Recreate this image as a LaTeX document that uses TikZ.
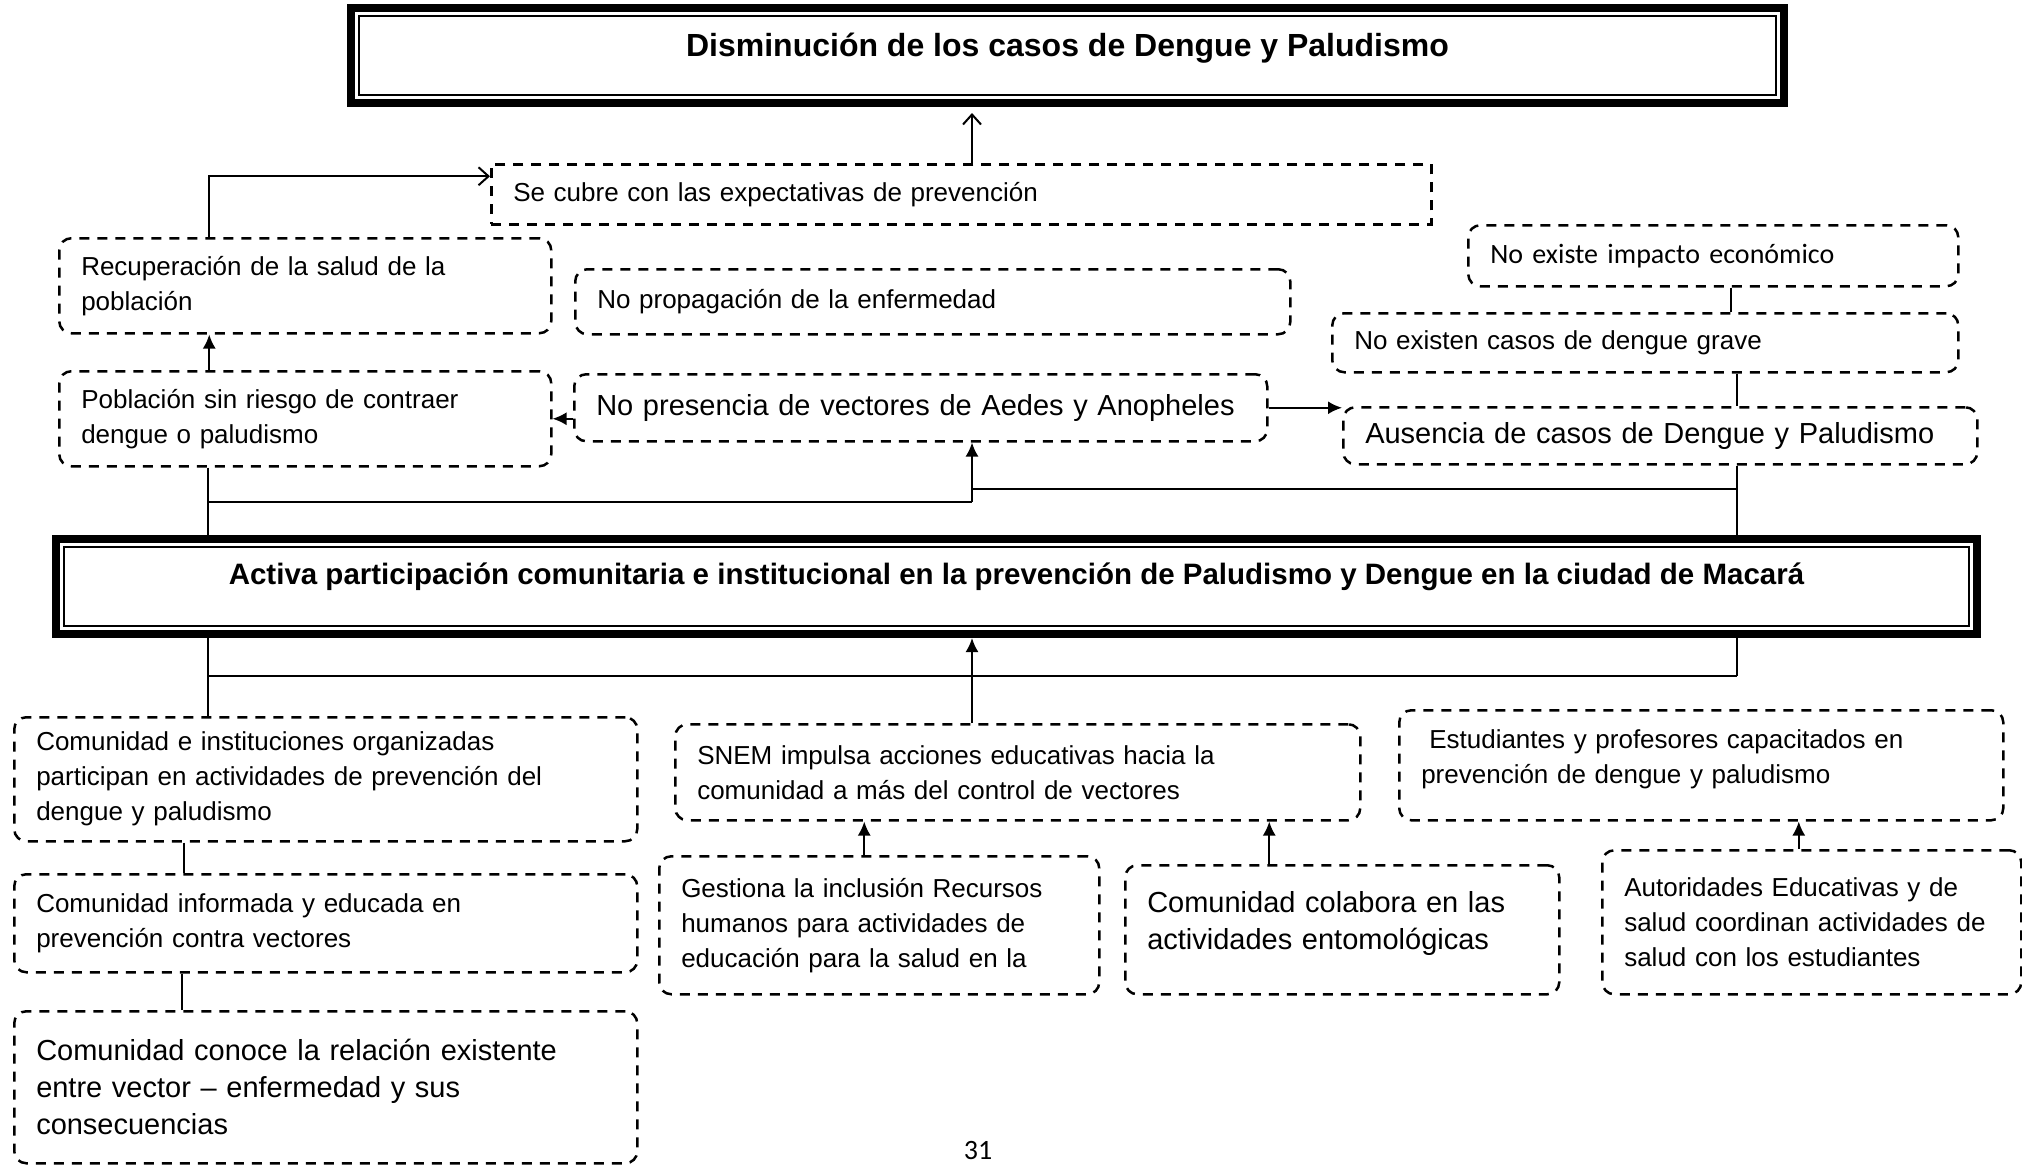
\documentclass[tikz,border=0pt]{standalone}
\usepackage{fontspec}
\setmainfont{Liberation Sans}
\newfontfamily\calibrifont{Carlito}
\usepackage{tikz}
\usetikzlibrary{arrows.meta}

\begin{document}
\begin{tikzpicture}[x=0.5pt, y=-0.5pt,
    dbox/.style={draw, line width=1.25pt, dash pattern=on 5pt off 4pt, rounded corners=6pt,
        anchor=north west, inner xsep=11pt, inner ysep=2pt, align=left,
        font=\fontsize{13}{17.5}\selectfont},
    bigtext/.style={font=\fontsize{14.5}{18.5}\selectfont},
    calibritext/.style={font=\calibrifont\fontsize{14}{17}\selectfont},
    titlebox/.style={draw, line width=4pt, anchor=north west,
        path picture={\draw[line width=1pt] ([shift={(4pt,-4pt)}]path picture bounding box.north west)
            rectangle ([shift={(-4pt,4pt)}]path picture bounding box.south east);}},
    link/.style={line width=1pt},
    opentip/.style={-{Straight Barb[length=5pt,width=9pt,line width=1pt]}},
    filltip/.style={-{Latex[length=7pt,width=6.5pt]}}]
    \useasboundingbox (0,0) rectangle (2022,1164);

    % Nodes
    \node[titlebox, minimum width=716.5pt, minimum height=47.5pt, font=\fontsize{16}{19}\selectfont\bfseries,
        text height=15pt, text depth=14pt] (goal) at (347,4) {Disminución de los casos de Dengue y Paludismo};

    \node[dbox, sharp corners, minimum width=470pt, minimum height=30pt, text width=448pt] (cubre) at (490,163) {Se cubre con las expectativas de prevención};
    \node[dbox, minimum width=246pt, minimum height=47.5pt, text width=224pt] (recup) at (58,237) {Recuperación de la salud de la\\población};
    \node[dbox, minimum width=357.5pt, minimum height=32.5pt, text width=335.5pt] (noprop) at (574,268) {No propagación de la enfermedad};
    \node[dbox, minimum width=246pt, minimum height=47.5pt, text width=224pt] (poblac) at (58,370) {Población sin riesgo de contraer\\dengue o paludismo};
    \node[dbox, bigtext, minimum width=346.5pt, minimum height=33.5pt, text width=324.5pt] (nopres) at (573,373) {No presencia de vectores de Aedes y Anopheles};
    \node[dbox, calibritext, minimum width=245pt, minimum height=30.5pt, text width=223pt] (noimpacto) at (1467,224) {No existe impacto económico};
    \node[dbox, minimum width=313pt, minimum height=29.5pt, text width=291pt] (nograve) at (1331,312) {No existen casos de dengue grave};
    \node[dbox, bigtext, minimum width=317pt, minimum height=28.5pt, text width=295pt] (ausencia) at (1342,406) {Ausencia de casos de Dengue y Paludismo};

    \node[titlebox, minimum width=960.5pt, minimum height=47.5pt, font=\fontsize{14.75}{18}\selectfont\bfseries,
        text height=13.7pt, text depth=15.6pt] (purpose) at (52,535) {Activa participación comunitaria e institucional en la prevención de Paludismo y Dengue en la ciudad de Macará};

    \node[dbox, minimum width=311.5pt, minimum height=62pt, text width=289.5pt] (comorg) at (13,716) {Comunidad e instituciones organizadas\\participan en actividades de prevención del\\dengue y paludismo};
    \node[dbox, minimum width=311.5pt, minimum height=49pt, text width=289.5pt] (cominf) at (13,873) {Comunidad informada y educada en\\prevención contra vectores};
    \node[dbox, bigtext, minimum width=311.5pt, minimum height=76pt, text width=289.5pt] (comcon) at (13,1010) {Comunidad conoce la relación existente\\entre vector – enfermedad y sus\\consecuencias};
    \node[dbox, minimum width=342.5pt, minimum height=48pt, text width=320.5pt] (snem) at (674,723) {SNEM impulsa acciones educativas hacia la\\comunidad a más del control de vectores};
    \node[dbox, minimum width=220pt, minimum height=69pt, text width=198pt] (gestiona) at (658,855) {Gestiona la inclusión Recursos\\humanos para actividades de\\educación para la salud en la};
    \node[dbox, bigtext, minimum width=217pt, minimum height=64.5pt, text width=195pt, text depth=28pt] (colabora) at (1124,864) {Comunidad colabora en las\\actividades entomológicas};
    \node[dbox, minimum width=302pt, minimum height=55pt, text width=280pt, text depth=26pt] (estud) at (1398,709) {\hspace{4pt}Estudiantes y profesores capacitados en\\prevención de dengue y paludismo};
    \node[dbox, minimum width=209.5pt, minimum height=72pt, text width=187.5pt] (autorid) at (1601,849) {Autoridades Educativas y de\\salud coordinan actividades de\\salud con los estudiantes};

    \node[calibritext] (pagenum) at (978,1150) {31};

    % Edges
    \coordinate (spine) at (972,502);
    \coordinate (leftbus) at (208,502);
    \coordinate (rightbus) at (1737,489);
    \coordinate (lowbus) at (208,676);

    \draw[link, opentip, shorten >=3pt] (cubre.north -| spine) -- (goal.south -| spine);
    \draw[link, opentip] ([xshift=-48pt]recup.north) |- ([yshift=9pt]cubre.west);
    \draw[link, filltip] ([xshift=-48pt]poblac.north) -- ([xshift=-48pt]recup.south);
    \draw[link, filltip] (nopres.west |- poblac.east) -- (poblac.east);
    \draw[link, filltip] (nopres.east) -- (nopres.east -| ausencia.west);
    \draw[link] ([xshift=9pt]noimpacto.south) -- ([xshift=9pt]noimpacto.south |- nograve.north);
    \draw[link] (nograve.south -| rightbus) -- (ausencia.north -| rightbus);

    \draw[link] (poblac.south -| leftbus) -- (purpose.north -| leftbus);
    \draw[link] (ausencia.south -| rightbus) -- (purpose.north -| rightbus);
    \draw[link] (leftbus) -- (spine);
    \draw[link] (rightbus) -- (rightbus -| spine);
    \draw[link, filltip] (spine) -- (nopres.south -| spine);

    \draw[link, filltip] (snem.north -| spine) -- (purpose.south -| spine);
    \draw[link] (purpose.south -| leftbus) -- (comorg.north -| leftbus);
    \draw[link] (purpose.south -| rightbus) -- (lowbus -| rightbus);
    \draw[link] (lowbus) -- (lowbus -| rightbus);

    \draw[link] ([xshift=-71pt]comorg.south) -- ([xshift=-71pt]cominf.north);
    \draw[link] ([xshift=-72pt]cominf.south) -- ([xshift=-72pt]comcon.north);
    \draw[link, filltip] ([xshift=-7.5pt]gestiona.north) -- ([xshift=-7.5pt]gestiona.north |- snem.south);
    \draw[link, filltip] ([xshift=-36.5pt]colabora.north) -- ([xshift=-36.5pt]colabora.north |- snem.south);
    \draw[link, filltip] ([xshift=-6.5pt]autorid.north) -- ([xshift=-6.5pt]autorid.north |- estud.south);
\end{tikzpicture}
\end{document}
